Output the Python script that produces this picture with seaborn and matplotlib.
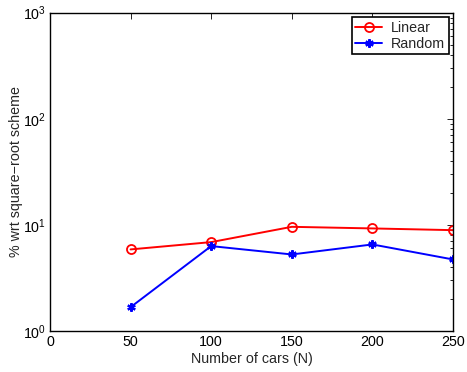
import matplotlib
matplotlib.use("Agg")
import matplotlib.pyplot as plt
import seaborn as sns
import pandas as pd
from matplotlib.ticker import LogLocator, NullFormatter, FixedLocator

# Data
num_cars = [50, 100, 150, 200, 250]
linear_pct = [5.88, 6.89, 9.6, 9.27, 8.93]
random_pct = [1.68, 6.32, 5.27, 6.55, 4.73]

sns.set_style("white")
plt.rcParams["font.family"] = ["Liberation Sans", "DejaVu Sans"]
fs = 10.3
plt.rcParams["font.size"] = fs

df = pd.DataFrame({
    "N": num_cars * 2,
    "pct": linear_pct + random_pct,
    "scheme": ["Linear"] * len(num_cars) + ["Random"] * len(num_cars),
})

fig = plt.figure(figsize=(4.67, 3.72), dpi=100)
ax = fig.add_axes([0.107, 0.110, 0.863, 0.856])

sns.lineplot(data=df[df.scheme == "Linear"], x="N", y="pct", ax=ax, color="#ff0000",
             marker="o", markersize=6.5, markerfacecolor="none", markeredgecolor="#ff0000",
             markeredgewidth=1.3, linewidth=1.4, label="Linear")
sns.lineplot(data=df[df.scheme == "Random"], x="N", y="pct", ax=ax, color="#0000ff",
             marker=(6, 2, 0), markersize=6, markerfacecolor="#0000ff", markeredgecolor="#0000ff",
             markeredgewidth=1.6, linewidth=1.4, label="Random")

ax.set_yscale("log")
ax.set_xlim(0, 250)
ax.set_ylim(1, 1000)
ax.xaxis.set_major_locator(FixedLocator([0, 50, 100, 150, 200, 250]))
ax.yaxis.set_major_locator(LogLocator(base=10, numticks=10))
ax.yaxis.set_minor_locator(LogLocator(base=10, subs=range(2, 10), numticks=20))
ax.yaxis.set_minor_formatter(NullFormatter())

ax.tick_params(which="both", direction="in", top=True, right=True, labelsize=fs, colors="black")
ax.tick_params(which="major", length=4, width=0.6, pad=3)
ax.tick_params(which="minor", length=2, width=0.6)
for s in ax.spines.values():
    s.set_color("black")
    s.set_linewidth(1.0)

ax.set_xlabel("Number of cars (N)", fontsize=fs, labelpad=2)
ax.set_ylabel("% wrt square\u2212root scheme", fontsize=fs)
ax.yaxis.set_label_coords(-0.067, 0.5)

leg = ax.legend(loc="upper right", fontsize=fs, frameon=True, fancybox=False,
                edgecolor="black", framealpha=1, handlelength=1.9, handletextpad=0.6,
                borderaxespad=0.3, borderpad=0.25, labelspacing=0.15)
leg.get_frame().set_linewidth(1.2)

fig.savefig("out.png", dpi=100)
